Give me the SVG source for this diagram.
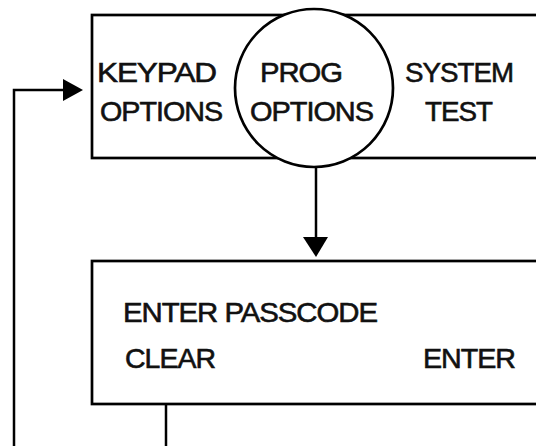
<svg xmlns="http://www.w3.org/2000/svg" width="536" height="446" viewBox="0 0 536 446">
<style>
.box{fill:#fff;stroke:#000;stroke-width:2.7}
.ln{fill:none;stroke:#000;stroke-width:2.5}
.t{font-family:"Liberation Sans",Arial,sans-serif;font-size:28.5px;fill:#111;stroke:#111;stroke-width:0.6;letter-spacing:-1px}
</style>
<rect width="536" height="446" fill="#fff"/>
<g id="menu">
<rect class="box" x="92" y="15" width="460" height="143"/>
<circle class="box" cx="314" cy="88" r="79"/>
<text class="t" x="97" y="82" textLength="119" lengthAdjust="spacingAndGlyphs">KEYPAD</text>
<text class="t" x="100" y="121" textLength="122" lengthAdjust="spacingAndGlyphs">OPTIONS</text>
<text class="t" x="260" y="82" textLength="82" lengthAdjust="spacingAndGlyphs">PROG</text>
<text class="t" x="250" y="121" textLength="123" lengthAdjust="spacingAndGlyphs">OPTIONS</text>
<text class="t" x="405" y="82" textLength="108" lengthAdjust="spacingAndGlyphs">SYSTEM</text>
<text class="t" x="425" y="121" textLength="67" lengthAdjust="spacingAndGlyphs">TEST</text>
</g>
<g id="passcode">
<rect class="box" x="92" y="261" width="460" height="143"/>
<text class="t" x="123" y="322" textLength="254" lengthAdjust="spacingAndGlyphs">ENTER PASSCODE</text>
<text class="t" x="125" y="368" textLength="90" lengthAdjust="spacingAndGlyphs">CLEAR</text>
<text class="t" x="423" y="368" textLength="92" lengthAdjust="spacingAndGlyphs">ENTER</text>
</g>
<g id="connectors">
<path class="ln" d="M316,167 L316,238"/>
<path d="M303,237 L328,237 L316,257 Z" fill="#000"/>
<path class="ln" d="M166,404 L166,446"/>
<path class="ln" d="M14,446 L14,90 L64,90"/>
<path d="M63,79 L83,90 L63,101 Z" fill="#000"/>
</g>
</svg>
